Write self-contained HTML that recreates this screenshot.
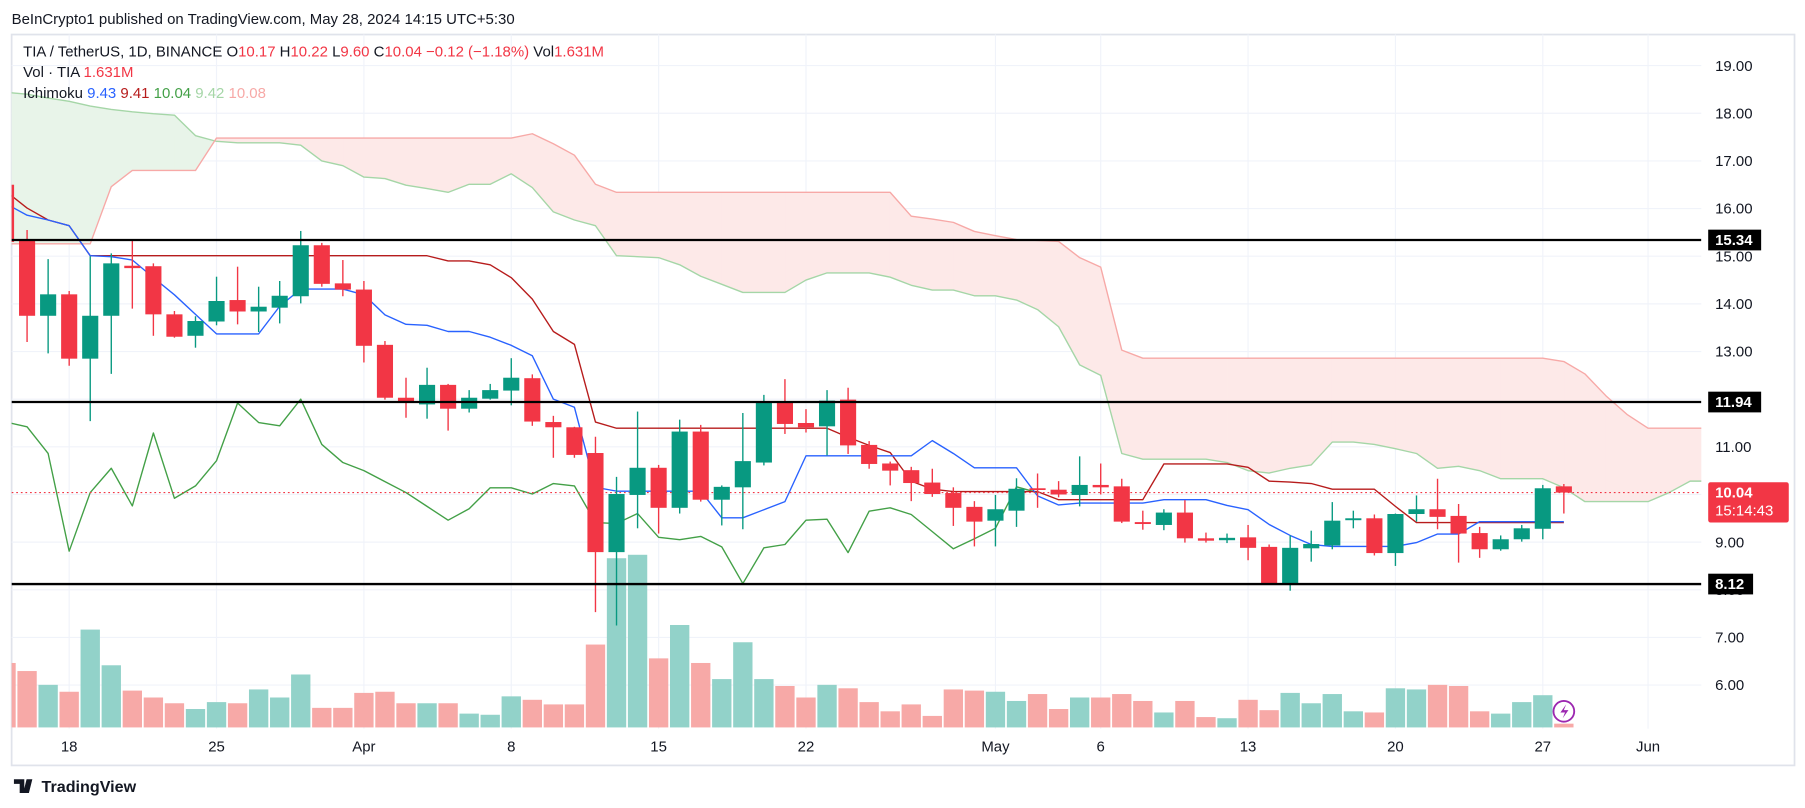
<!DOCTYPE html>
<html><head><meta charset="utf-8"><style>
html,body{margin:0;padding:0;background:#fff;}
svg{display:block;font-family:"Liberation Sans",sans-serif;}
</style></head><body>
<svg id="chart" xmlns="http://www.w3.org/2000/svg" width="1805" height="808" viewBox="0 0 1568 702">
<defs><clipPath id="plotclip"><rect x="10" y="30" width="1468" height="603"/></clipPath></defs>
<rect x="0" y="0" width="1568" height="702" fill="#fff"/>
<text x="10" y="21" font-size="13" fill="#131722">BeInCrypto1 published on TradingView.com, May 28, 2024 14:15 UTC+5:30</text>
<rect x="10" y="30" width="1549" height="635" fill="none" stroke="#e0e3eb" stroke-width="1.5"/>
<g id="grid"></g>
<g id="plot" clip-path="url(#plotclip)"></g>
<g id="axes"></g>
<g font-size="13">
<text x="20" y="49" fill="#131722">TIA / TetherUS, 1D, BINANCE <tspan>O</tspan><tspan fill="#f23645">10.17</tspan> <tspan>H</tspan><tspan fill="#f23645">10.22</tspan> <tspan>L</tspan><tspan fill="#f23645">9.60</tspan> <tspan>C</tspan><tspan fill="#f23645">10.04</tspan> <tspan fill="#f23645">−0.12 (−1.18%)</tspan> <tspan>Vol</tspan><tspan fill="#f23645">1.631M</tspan></text>
<text x="20" y="67" fill="#131722">Vol · TIA <tspan fill="#f23645">1.631M</tspan></text>
<text x="20" y="85" fill="#131722">Ichimoku <tspan fill="#2962ff">9.43</tspan> <tspan fill="#b71c1c">9.41</tspan> <tspan fill="#43a047">10.04</tspan> <tspan fill="#a5d6a7">9.42</tspan> <tspan fill="#f7a9a7">10.08</tspan></text>
</g>
<g>
<path d="M12 677h9v12h-4v-8h-5z M23 677h5l-3 12h-5z" fill="#131722"/>
<text x="36" y="688" font-size="14" font-weight="bold" fill="#131722">TradingView</text>
</g>
</svg>
<script>
const dayLabels=["18","25","Apr","8","15","22","May","6","13","20","27","Jun"];
const dayLabelIdx=[3,10,17,24,31,38,47,52,59,66,73,78];
const priceTicks=[6,7,8,9,10,11,12,13,14,15,16,17,18,19];
const opens=[16.5,15.34,13.75,14.2,12.85,13.75,14.8,14.79,13.78,13.33,13.63,14.08,13.84,13.92,14.16,15.23,14.43,14.30,13.14,12.03,11.89,12.30,11.80,12.01,12.18,12.44,11.52,11.41,10.87,8.79,9.99,10.56,9.72,11.32,9.89,10.15,10.67,11.92,11.50,11.43,11.99,11.04,10.65,10.51,10.25,10.03,9.74,9.45,9.66,10.13,10.10,9.99,10.20,10.17,9.42,9.36,9.62,9.08,9.04,9.10,8.90,8.11,8.87,8.93,9.46,9.50,8.77,9.59,9.69,9.55,9.19,8.85,9.06,9.28,10.17];
const highs=[16.55,15.55,14.94,14.27,15.0,15.06,15.35,14.85,13.85,13.74,14.57,14.78,14.36,14.48,15.53,15.28,14.92,14.48,13.22,12.45,12.66,12.32,12.19,12.32,12.86,12.52,11.65,11.42,11.21,10.37,11.74,10.62,11.57,11.46,10.19,11.71,12.09,12.42,11.79,12.19,12.24,11.12,10.69,10.58,10.54,10.15,9.86,9.99,10.34,10.44,10.28,10.80,10.65,10.33,9.66,9.69,9.88,9.20,9.18,9.36,8.95,9.14,9.24,9.84,9.66,9.58,9.60,9.98,10.33,9.80,9.32,9.14,9.36,10.20,10.22];
const lows=[15.2,13.20,12.96,12.70,11.54,12.53,13.9,13.33,13.29,13.08,13.55,13.57,13.41,13.59,14.01,14.36,14.16,12.77,11.99,11.61,11.59,11.34,11.72,11.99,11.87,11.44,10.77,10.77,7.53,7.25,9.29,9.18,9.60,9.85,9.35,9.27,10.61,11.27,11.30,10.82,10.85,10.54,10.19,9.86,9.95,9.34,8.91,8.91,9.32,9.72,9.94,9.75,10.0,9.40,9.26,9.25,8.99,8.99,8.98,8.62,8.11,7.98,8.59,8.85,9.29,8.72,8.50,9.43,9.27,8.57,8.67,8.82,9.01,9.06,9.60];
const closes=[15.3,13.75,14.2,12.85,13.75,14.85,14.75,13.78,13.31,13.64,14.06,13.84,13.94,14.17,15.23,14.42,14.30,13.12,12.03,11.92,12.30,11.80,12.03,12.19,12.45,11.53,11.41,10.83,8.79,10.01,10.56,9.72,11.32,9.89,10.16,10.70,11.92,11.48,11.41,11.97,11.03,10.64,10.50,10.24,10.01,9.72,9.43,9.69,10.12,10.10,10.00,10.20,10.15,9.43,9.38,9.62,9.08,9.03,9.09,8.88,8.11,8.88,8.96,9.45,9.50,8.77,9.59,9.69,9.53,9.18,8.85,9.06,9.29,10.13,10.04];
const volumes=[28,24.5,18.5,15.5,42.5,27,16,13,10.5,8,11,10.5,16.5,13,23,8.5,8.5,15,15.5,10.5,10.5,10.5,6,5.5,13.5,12,10,10,36,73.5,75,30,44.5,28,21,37,21,18,13,18.5,17,11,7,10,5,16.5,16,15.5,11.5,14.5,8,13,13,14.5,11.5,6.5,11.5,4.5,4,12,7.5,15,10.5,14.5,7,6.5,17,16.5,18.5,18,7,6,11,14,1.631];
const tenkan=[16.1,15.86,15.76,15.64,15.01,14.99,14.92,14.55,14.19,13.78,13.37,13.37,13.37,13.95,14.31,14.31,14.31,14.19,13.77,13.57,13.55,13.42,13.42,13.30,13.13,12.91,12.0,11.83,10.15,10.07,10.07,10.07,10.07,10.07,9.51,9.51,9.68,9.85,10.81,10.81,10.81,10.81,10.81,10.81,11.13,10.86,10.56,10.56,10.56,9.97,9.78,9.82,9.82,9.82,9.82,9.89,9.89,9.89,9.77,9.68,9.37,9.14,8.95,8.91,8.91,8.91,8.91,8.99,9.17,9.17,9.43,9.43,9.43,9.43,9.43];
const kijun=[16.36,16.01,15.76,15.64,15.01,15.01,15.01,15.01,15.01,15.01,15.01,15.01,15.01,15.01,15.01,15.01,15.01,15.01,15.01,15.01,15.01,14.9,14.9,14.82,14.55,14.1,13.42,13.15,11.52,11.39,11.39,11.39,11.39,11.39,11.39,11.39,11.39,11.39,11.39,11.39,11.20,11.03,10.88,10.28,10.11,10.06,10.06,10.06,10.06,10.06,9.89,9.89,9.89,9.89,9.89,10.64,10.64,10.64,10.64,10.57,10.28,10.26,10.23,10.11,10.11,10.11,9.75,9.41,9.41,9.41,9.41,9.41,9.41,9.41,9.41];
const chikou=[11.52,11.42,10.86,8.81,10.04,10.55,9.76,11.29,9.92,10.18,10.71,11.92,11.51,11.44,12.0,11.05,10.67,10.50,10.27,10.04,9.75,9.46,9.70,10.14,10.14,10.01,10.23,10.18,9.41,9.39,9.60,9.10,9.05,9.12,8.90,8.13,8.88,8.95,9.46,9.48,8.78,9.65,9.72,9.58,9.22,8.86,9.07,9.29,10.16,10.04];
const spanA=[18.44,18.40,18.32,18.25,18.15,18.08,18.03,17.99,17.96,17.53,17.41,17.38,17.38,17.38,17.33,17.00,16.90,16.66,16.63,16.49,16.42,16.34,16.51,16.51,16.73,16.44,15.93,15.76,15.64,15.01,14.99,14.97,14.82,14.58,14.41,14.24,14.24,14.24,14.50,14.65,14.65,14.65,14.56,14.39,14.29,14.29,14.17,14.17,14.08,13.88,13.52,12.72,12.50,10.86,10.74,10.74,10.74,10.74,10.67,10.50,10.45,10.55,10.62,11.10,11.10,11.05,10.96,10.86,10.55,10.59,10.50,10.33,10.33,10.33,10.14,9.85,9.85,9.85,9.85,10.04,10.28,10.28];
const spanB=[15.26,15.26,15.26,15.26,15.26,16.46,16.80,16.80,16.80,16.80,17.48,17.48,17.48,17.48,17.48,17.48,17.48,17.48,17.48,17.48,17.48,17.48,17.48,17.48,17.48,17.57,17.36,17.12,16.51,16.34,16.34,16.34,16.34,16.34,16.34,16.34,16.34,16.34,16.34,16.34,16.34,16.34,16.34,15.84,15.78,15.71,15.52,15.43,15.35,15.33,15.31,14.97,14.77,13.03,12.86,12.86,12.86,12.86,12.86,12.86,12.86,12.86,12.86,12.86,12.86,12.86,12.86,12.86,12.86,12.86,12.86,12.86,12.86,12.86,12.79,12.53,12.07,11.68,11.39,11.39,11.39,11.39];
const levels=[15.34,11.94,8.12];
const lastPrice=10.04;

const NS="http://www.w3.org/2000/svg";
function xOf(i){return 60+(i-3)*18.29;}
function yOf(p){return 57+(19-p)*41.4;}
function yVol(v){return 632-v*2;}
function mk(tag,attrs,parent){const e=document.createElementNS(NS,tag);for(const k in attrs)e.setAttribute(k,attrs[k]);parent.appendChild(e);return e;}
const grid=document.getElementById('grid'),plot=document.getElementById('plot'),axes=document.getElementById('axes');

priceTicks.forEach(p=>{
  const l=mk('line',{x1:10,x2:1478,y1:yOf(p),y2:yOf(p),stroke:'#f0f3fa','stroke-width':1},grid);
  
  
  const t=mk('text',{x:1490,y:yOf(p)+4.5,'font-size':13,fill:'#131722'},axes);
  t.textContent=p.toFixed(2);
  
  
});
dayLabelIdx.forEach((d,k)=>{
  const l=mk('line',{x1:xOf(d),x2:xOf(d),y1:30,y2:633,stroke:'#f0f3fa','stroke-width':1},grid);
  
  
  const t=mk('text',{x:xOf(d),y:653,'font-size':13,fill:'#131722','text-anchor':'middle'},axes);
  t.textContent=dayLabels[k];
  
  
});

function poly(xa,ya,xb,yb,xc,yc,xd,yd,up){
  const c=up?'#e8f4e9':'#fde9e8';
  const pg=mk('polygon',{points:xa+','+ya+' '+xb+','+yb+' '+xc+','+yc+' '+xd+','+yd,fill:c,stroke:c,'stroke-width':0.6},plot);
  
  
}
for(let i=0;i<spanA.length-1;i++){
  const a0=spanA[i],a1=spanA[i+1],b0=spanB[i],b1=spanB[i+1];
  const d0=a0-b0,d1=a1-b1;
  const x0=xOf(i),x1=xOf(i+1);
  if(d0*d1<0){
    const t=d0/(d0-d1),xm=x0+t*(x1-x0),pm=a0+t*(a1-a0);
    poly(x0,yOf(a0),xm,yOf(pm),xm,yOf(pm),x0,yOf(b0),d0>0);
    poly(xm,yOf(pm),x1,yOf(a1),x1,yOf(b1),xm,yOf(pm),d1>0);
  } else poly(x0,yOf(a0),x1,yOf(a1),x1,yOf(b1),x0,yOf(b0),(d0+d1)>0);
}
function line(arr,color,name,w){
  const pts=arr.map((v,i)=>xOf(i)+','+yOf(v)).join(' ');
  const pl=mk('polyline',{points:pts,fill:'none',stroke:color,'stroke-width':w||1.2,'stroke-linejoin':'round'},plot);
  
  
}
line(spanA,'#a5d6a7','senkou-span-a');
line(spanB,'#f7a9a7','senkou-span-b');
line(chikou,'#43a047','chikou-span');

volumes.forEach((v,i)=>{
  const up=closes[i]>=opens[i];
  const r=mk('rect',{x:xOf(i)-8.4,y:yVol(v),width:16.8,height:632-yVol(v),fill:up?'#92d2c9':'#f7a9a7'},plot);
  
  
});

line(kijun,'#b71c1c','kijun-sen');
line(tenkan,'#2962ff','tenkan-sen');

const dl=mk('line',{x1:10,x2:1478,y1:yOf(lastPrice),y2:yOf(lastPrice),stroke:'#f23645','stroke-width':1,'stroke-dasharray':'1.5 2.5'},plot);



opens.forEach((o,i)=>{
  const c=closes[i],up=c>=o,col=up?'#089981':'#f23645',x=xOf(i);
  const g=mk('g',{},plot);
  
  
  mk('line',{x1:x,x2:x,y1:yOf(highs[i]),y2:yOf(lows[i]),stroke:col,'stroke-width':1.2},g);
  const top=yOf(Math.max(o,c)),bot=yOf(Math.min(o,c));
  mk('rect',{x:x-7,y:top,width:14,height:Math.max(1.5,bot-top),fill:col},g);
});

levels.forEach(p=>{
  const l=mk('line',{x1:10,x2:1478,y1:yOf(p),y2:yOf(p),stroke:'#000','stroke-width':2},plot);
  
  
  const r=mk('rect',{x:1484,y:yOf(p)-9,width:p>=10?46:39,height:18,fill:'#000'},axes);
  
  
  const t=mk('text',{x:1490,y:yOf(p)+4.5,'font-size':13,'font-weight':'bold',fill:'#fff'},axes);
  t.textContent=p.toFixed(2);
  
  
});
const lr=mk('rect',{x:1484,y:yOf(lastPrice)-9,width:70,height:35,rx:2,fill:'#f23645'},axes);


const lt=mk('text',{x:1490,y:yOf(lastPrice)+4.5,'font-size':13,'font-weight':'bold',fill:'#fff'},axes);
lt.textContent=lastPrice.toFixed(2);


const ct=mk('text',{x:1490,y:yOf(lastPrice)+20,'font-size':13,fill:'#fff'},axes);
ct.textContent='15:14:43';


const lg=mk('g',{},axes);


mk('circle',{cx:xOf(74),cy:618,r:9,fill:'#fff',stroke:'#9c27b0','stroke-width':1.6},lg);
mk('path',{d:'M'+(xOf(74)+2)+' 612 l-5 7 h4 l-2 5 l5 -7 h-4 z',fill:'#9c27b0'},lg);
</script>
</body></html>
